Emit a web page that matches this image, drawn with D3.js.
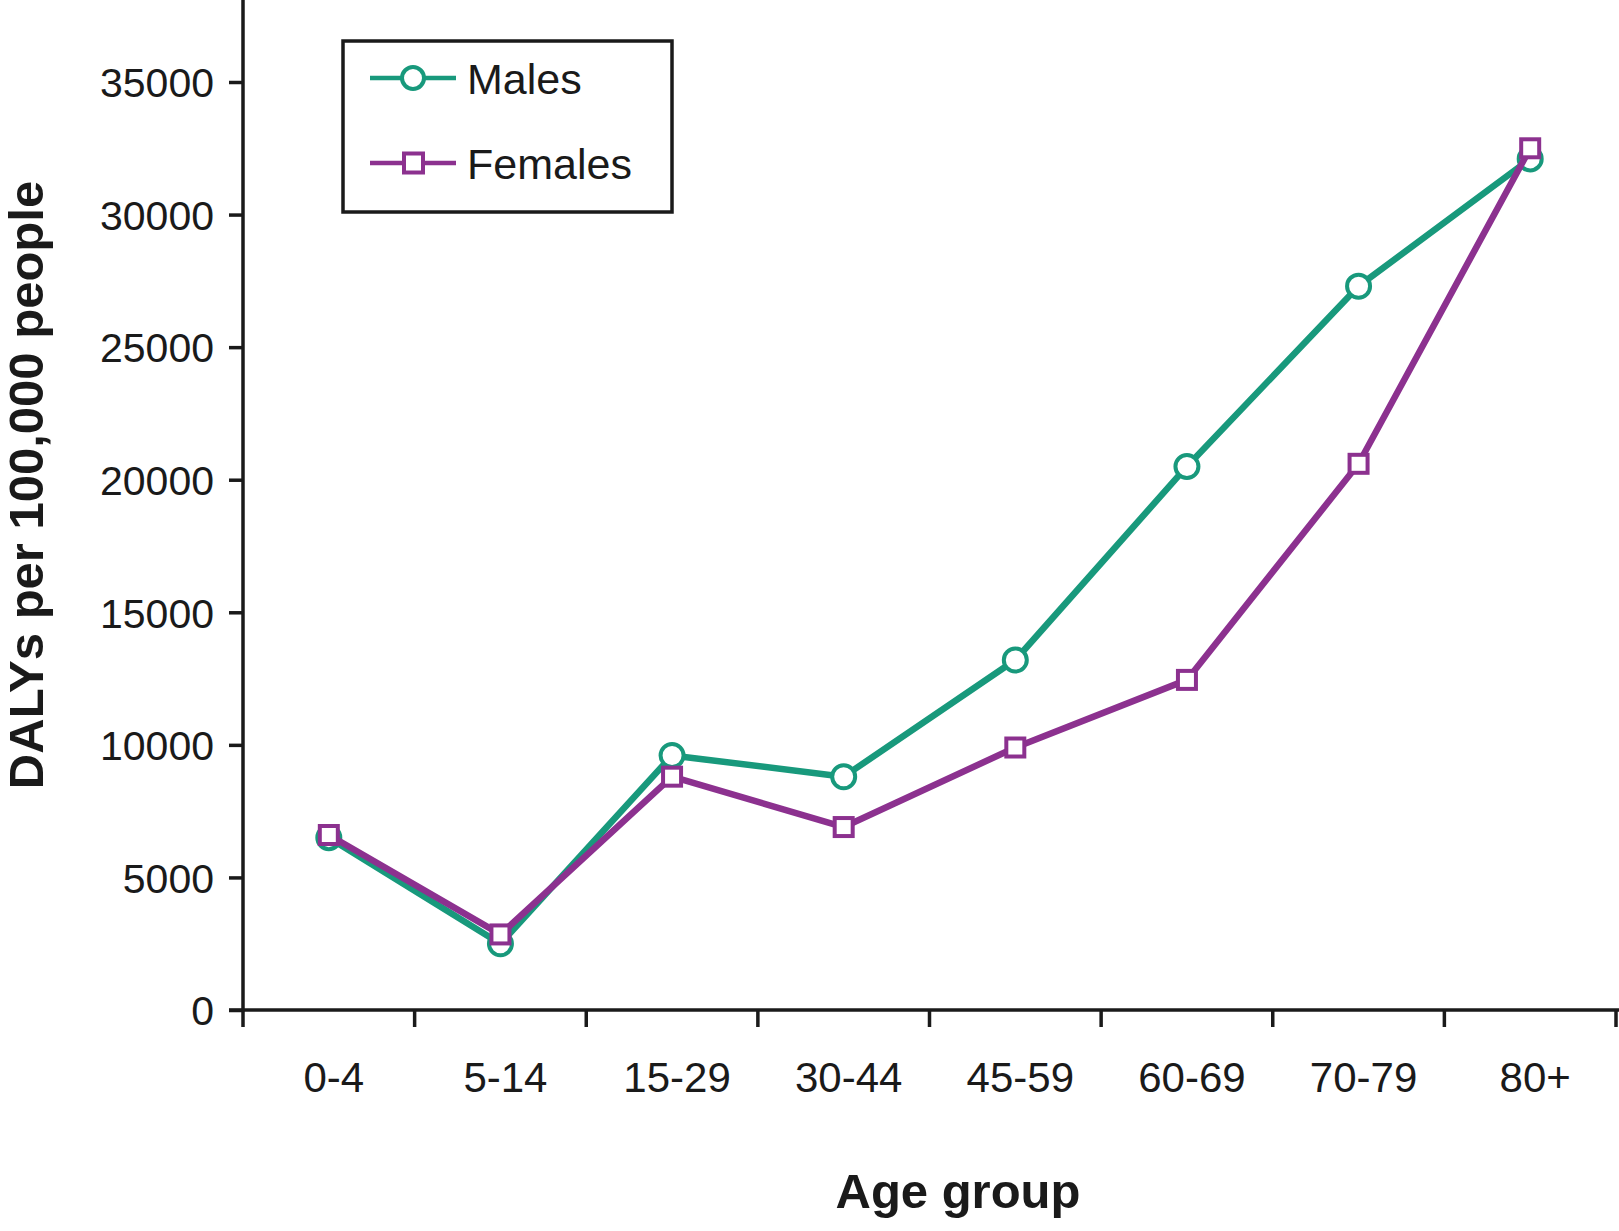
<!DOCTYPE html>
<html>
<head>
<meta charset="utf-8">
<script src="https://cdn.jsdelivr.net/npm/d3@7.9.0/dist/d3.min.js"></script>
<style>
  body { margin: 0; background: #fff; }
  svg { display: block; font-family: "Liberation Sans", Arial, sans-serif; }
</style>
</head>
<body>
<svg id="chart" width="1619" height="1231"></svg>
<script>
// data
const ageGroups = ['0-4', '5-14', '15-29', '30-44', '45-59', '60-69', '70-79', '80+'];
const males = [6500, 2500, 9600, 8800, 13200, 20500, 27300, 32100];
const females = [6600, 2850, 8800, 6900, 9900, 12450, 20600, 32500];
const yTicks = [0, 5000, 10000, 15000, 20000, 25000, 30000, 35000];

const teal = '#18997c';
const purple = '#8c318f';

const svg = d3.select('#chart');
const left = 243, right = 1616, bottom = 1010, top35 = 82;

let x = d3.scaleBand().domain(ageGroups).range([left, right]).padding(0);
let y = d3.scaleLinear().domain([0, 35000]).range([bottom, top35]);
const cx = (d) => x(d) + x.bandwidth() / 2;

// y axis
let yAxis = svg.append('g')
  .attr('transform', `translate(${left},0)`)
  .call(d3.axisLeft(y).tickValues(yTicks).tickFormat(d3.format('d')).tickSize(14).tickPadding(15));
yAxis.select('.domain').remove();
yAxis.selectAll('.tick line').attr('stroke', '#1a1a1a').attr('stroke-width', 3.5);
yAxis.selectAll('.tick text').attr('font-size', 41).attr('fill', '#1a1a1a').attr('dy', '0.36em');
svg.append('line')
  .attr('x1', left).attr('x2', left).attr('y1', 0).attr('y2', bottom + 1.5)
  .attr('stroke', '#1a1a1a').attr('stroke-width', 3.5);

// x axis: ticks on band edges, labels in band centres
let edges = ageGroups.map((d) => x(d)).concat([right]);
svg.append('line')
  .attr('x1', left - 14).attr('x2', 1619).attr('y1', bottom).attr('y2', bottom)
  .attr('stroke', '#1a1a1a').attr('stroke-width', 3.5);
svg.selectAll('.xtick').data(edges).join('line')
  .attr('class', 'xtick')
  .attr('x1', (d) => d).attr('x2', (d) => d)
  .attr('y1', bottom).attr('y2', bottom + 17)
  .attr('stroke', '#1a1a1a').attr('stroke-width', 3.5);
svg.selectAll('.xlabel').data(ageGroups).join('text')
  .attr('class', 'xlabel')
  .attr('x', (d) => cx(d) + 5)
  .attr('y', 1092)
  .attr('text-anchor', 'middle')
  .attr('font-size', 42)
  .attr('fill', '#1a1a1a')
  .text((d) => d);

// axis titles
svg.append('text')
  .attr('x', 958).attr('y', 1208)
  .attr('text-anchor', 'middle')
  .attr('font-size', 49).attr('font-weight', 'bold').attr('fill', '#1a1a1a')
  .text('Age group');
svg.append('text')
  .attr('transform', 'translate(43,485) rotate(-90)')
  .attr('text-anchor', 'middle')
  .attr('font-size', 49).attr('font-weight', 'bold').attr('fill', '#1a1a1a')
  .text('DALYs per 100,000 people');

// lines and markers
let line = d3.line().x((d, i) => cx(ageGroups[i])).y((d) => y(d));

svg.append('path').datum(males)
  .attr('d', line).attr('fill', 'none')
  .attr('stroke', teal).attr('stroke-width', 6.5).attr('stroke-linejoin', 'round');
svg.selectAll('.mdot').data(males).join('circle')
  .attr('class', 'mdot')
  .attr('cx', (d, i) => cx(ageGroups[i])).attr('cy', (d) => y(d))
  .attr('r', 11.5).attr('fill', '#fff')
  .attr('stroke', teal).attr('stroke-width', 4);

svg.append('path').datum(females)
  .attr('d', line).attr('fill', 'none')
  .attr('stroke', purple).attr('stroke-width', 6.5).attr('stroke-linejoin', 'round');
svg.selectAll('.fdot').data(females).join('rect')
  .attr('class', 'fdot')
  .attr('x', (d, i) => cx(ageGroups[i]) - 9).attr('y', (d) => y(d) - 9)
  .attr('width', 18).attr('height', 18).attr('fill', '#fff')
  .attr('stroke', purple).attr('stroke-width', 4);

// legend
let legend = svg.append('g');
legend.append('rect')
  .attr('x', 343).attr('y', 41).attr('width', 329).attr('height', 171)
  .attr('fill', '#fff').attr('stroke', '#1a1a1a').attr('stroke-width', 3.5);
let items = [
  { label: 'Males', color: teal, shape: 'circle', y: 78 },
  { label: 'Females', color: purple, shape: 'square', y: 163 },
];
items.forEach((d) => {
  legend.append('line')
    .attr('x1', 370).attr('x2', 456).attr('y1', d.y).attr('y2', d.y)
    .attr('stroke', d.color).attr('stroke-width', 4.5);
  if (d.shape === 'circle') {
    legend.append('circle').attr('cx', 413).attr('cy', d.y).attr('r', 11)
      .attr('fill', '#fff').attr('stroke', d.color).attr('stroke-width', 4);
  } else {
    legend.append('rect').attr('x', 404).attr('y', d.y - 9.5).attr('width', 19).attr('height', 19)
      .attr('fill', '#fff').attr('stroke', d.color).attr('stroke-width', 4);
  }
  legend.append('text')
    .attr('x', 467).attr('y', d.y + 16)
    .attr('font-size', 43).attr('fill', '#1a1a1a')
    .text(d.label);
});
</script>
</body>
</html>
